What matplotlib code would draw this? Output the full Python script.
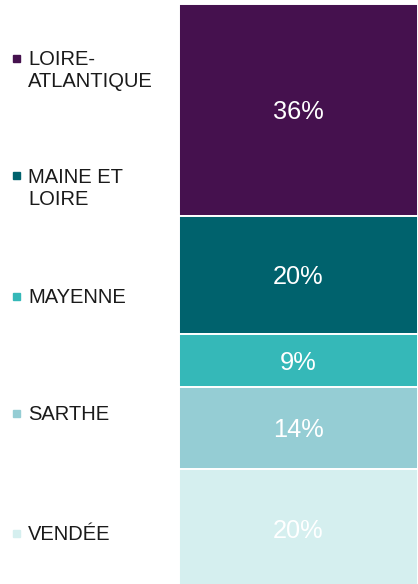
import matplotlib.pyplot as plt
from matplotlib.patches import Rectangle

plt.rcParams['font.family'] = ['Liberation Sans', 'DejaVu Sans']

# Data
departements = ['LOIRE-\nATLANTIQUE', 'MAINE ET\nLOIRE', 'MAYENNE', 'SARTHE', 'VENDÉE']
parts = [36, 20, 9, 14, 20]
colors = ['#45114e', '#00626d', '#35b8b8', '#95cdd4', '#d5efef']

W, H = 418, 584
fig = plt.figure(figsize=(W / 100, H / 100), dpi=100)

# Single stacked bar on the right (bottom segment runs past the frame)
ax = fig.add_axes([179 / W, 0, 1 - 179 / W, (H - 4) / H])
bottom = 0
for label, value, color in zip(departements, parts, colors):
    ax.bar(0, value, bottom=bottom, width=1, color=color,
           edgecolor='white', linewidth=1.4)
    ax.text(0, bottom + value / 2, f'{value}%', ha='center',
            va='center_baseline', color='white', fontsize=18.3)
    bottom += value
ax.set_xlim(-0.5, 0.5)
ax.set_ylim(98.5, 0)
ax.axis('off')

# Legend on the left (manual placement)
legend_y = [58, 176, 296, 413, 533]
for label, color, y in zip(departements, colors, legend_y):
    fig.patches.append(Rectangle((13 / W, 1 - (y + 3.5) / H), 7 / W, 7 / H,
                                 transform=fig.transFigure, color=color))
    fig.text(28 / W, 1 - (y - 8) / H, label, color='#1a1a1a', fontsize=14.5,
             ha='left', va='top', linespacing=1.22)

fig.savefig('out.png', dpi=100)
